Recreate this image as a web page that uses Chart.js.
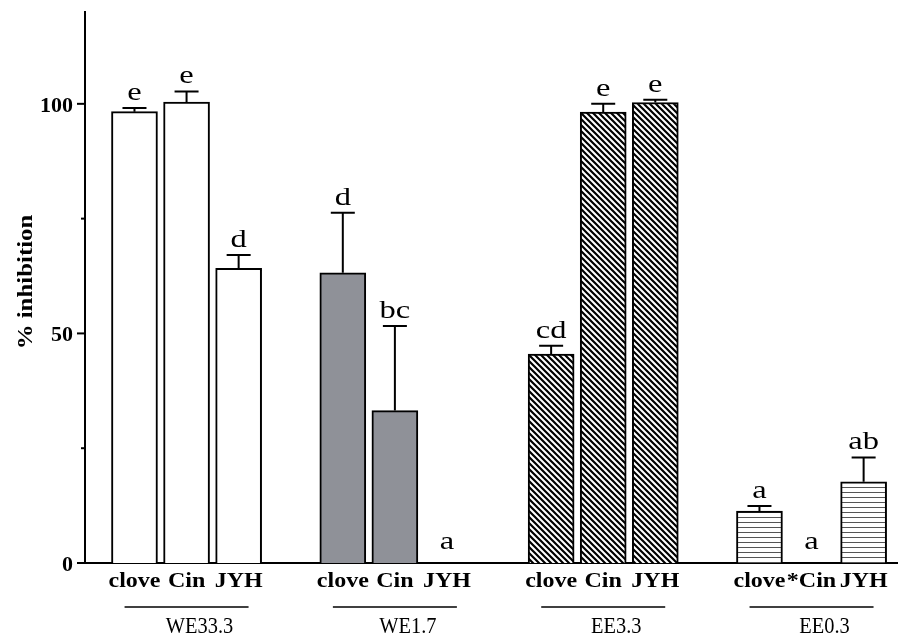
<!DOCTYPE html>
<html>
<head>
<meta charset="utf-8">
<script src="https://cdn.jsdelivr.net/npm/chart.js@4.4.0/dist/chart.umd.min.js"></script>
<style>
  body { margin: 0; background: #fff; }
  #wrap { width: 898px; height: 635px; }
</style>
</head>
<body>
<div id="wrap"><canvas id="inhibitionChart" width="898" height="635"></canvas></div>
<script>
// data
const groupNames = ['WE33.3', 'WE1.7', 'EE3.3', 'EE0.3'];
const itemLabels = ['clove', 'Cin', 'JYH', 'clove', 'Cin', 'JYH', 'clove', 'Cin', 'JYH', 'clove', '*Cin', 'JYH'];
const meanValues = [98.3, 100.4, 64.2, 63.2, 33.2, 0, 45.5, 98.2, 100.3, 11.3, 0, 17.7];
const errorValues = [0.8, 2.3, 2.9, 13.1, 18.4, 0, 1.8, 1.8, 0.6, 1.1, 0, 5.3];
const sigLetters = ['e', 'e', 'd', 'd', 'bc', 'a', 'cd', 'e', 'e', 'a', 'a', 'ab'];
const yTickLabels = [0, 50, 100];

const PER_GROUP = 3;
const SERIF = '"Liberation Serif", "Times New Roman", serif';

// slot index of each bar, leaving one empty slot between groups
function slotOf(k) {
    const g = Math.floor(k / PER_GROUP);
    return g * (PER_GROUP + 1) + (k % PER_GROUP);
}

// fill patterns
function makeHatch() {
    const c = document.createElement('canvas');
    c.width = 6; c.height = 6;
    const x = c.getContext('2d');
    x.fillStyle = '#fff';
    x.fillRect(0, 0, 6, 6);
    x.strokeStyle = '#000';
    x.lineWidth = 2.2;
    x.beginPath();
    x.moveTo(-1, -1); x.lineTo(7, 7);
    x.moveTo(-4, 2); x.lineTo(4, 10);
    x.moveTo(2, -4); x.lineTo(10, 4);
    x.stroke();
    return x.createPattern(c, 'repeat');
}

function makeLines() {
    const c = document.createElement('canvas');
    c.width = 8; c.height = 5;
    const x = c.getContext('2d');
    x.fillStyle = '#fff';
    x.fillRect(0, 0, 8, 5);
    x.fillStyle = '#555';
    x.fillRect(0, 2, 8, 1);
    return x.createPattern(c, 'repeat');
}

const groupFills = ['#ffffff', '#8f9198', makeHatch(), makeLines()];

function stretchText(ctx, txt, x, y, sx, align) {
    ctx.save();
    ctx.translate(x, y);
    ctx.scale(sx, 1);
    ctx.textAlign = align;
    ctx.fillText(txt, 0, 0);
    ctx.restore();
}

// error bars, letters, axis labels
const annotate = {
    id: 'annotate',
    afterDraw(chart) {
        const ctx = chart.ctx;
        const xs = chart.scales.x;
        const ys = chart.scales.y;
        const area = chart.chartArea;
        ctx.save();
        ctx.fillStyle = '#000';
        ctx.strokeStyle = '#000';
        ctx.textBaseline = 'alphabetic';

        // error whiskers and letters
        meanValues.forEach((v, k) => {
            const cx = xs.getPixelForValue(slotOf(k));
            const top = ys.getPixelForValue(v + errorValues[k]);
            if (errorValues[k] > 0) {
                ctx.lineWidth = 2;
                ctx.beginPath();
                ctx.moveTo(cx, ys.getPixelForValue(v));
                ctx.lineTo(cx, top);
                ctx.moveTo(cx - 12, top);
                ctx.lineTo(cx + 12, top);
                ctx.stroke();
            }
            ctx.font = '26px ' + SERIF;
            const base = v > 0 ? top - 8 : ys.getPixelForValue(0) - 14;
            stretchText(ctx, sigLetters[k], cx, base, 1.25, 'center');

            ctx.font = 'bold 20px ' + SERIF;
            stretchText(ctx, itemLabels[k], cx, 587, 1.2, 'center');
        });

        // y ticks
        ctx.lineWidth = 2;
        for (let v = 0; v <= 100; v += 25) {
            const py = ys.getPixelForValue(v);
            const len = v % 50 === 0 ? 8 : 4;
            ctx.beginPath();
            ctx.moveTo(area.left - len, py);
            ctx.lineTo(area.left, py);
            ctx.stroke();
        }
        ctx.font = 'bold 22px ' + SERIF;
        yTickLabels.forEach(v => {
            stretchText(ctx, String(v), 73, ys.getPixelForValue(v) + 8, 1.0, 'right');
        });

        // group underline + name
        ctx.lineWidth = 1.5;
        ctx.font = '24px ' + SERIF;
        groupNames.forEach((name, g) => {
            const mid = xs.getPixelForValue(slotOf(g * PER_GROUP + 1));
            ctx.beginPath();
            ctx.moveTo(mid - 62, 607);
            ctx.lineTo(mid + 62, 607);
            ctx.stroke();
            stretchText(ctx, name, mid + 13, 633, 0.85, 'center');
        });

        // y title
        ctx.save();
        ctx.translate(32, 282);
        ctx.rotate(-Math.PI / 2);
        ctx.scale(1.13, 1);
        ctx.font = 'bold 22px ' + SERIF;
        ctx.textAlign = 'center';
        ctx.fillText('% inhibition', 0, 0);
        ctx.restore();

        ctx.restore();
    }
};

const ctx = document.getElementById('inhibitionChart').getContext('2d');
new Chart(ctx, {
    type: 'bar',
    data: {
        datasets: [{
            data: meanValues.map((v, k) => ({ x: slotOf(k), y: v })),
            backgroundColor: meanValues.map((v, k) => groupFills[Math.floor(k / PER_GROUP)]),
            borderColor: '#000',
            borderWidth: 2,
            borderSkipped: 'start',
            barThickness: 46
        }]
    },
    options: {
        responsive: false,
        animation: false,
        layout: { padding: { top: 12, right: 0, left: 0, bottom: 0 } },
        plugins: {
            legend: { display: false },
            tooltip: { enabled: false }
        },
        scales: {
            x: {
                type: 'linear',
                min: -0.95,
                max: 14.66,
                offset: false,
                grid: { display: false },
                ticks: { display: false },
                border: { display: true, color: '#000', width: 2 },
                afterFit: s => { s.height = 72; }
            },
            y: {
                min: 0,
                max: 120,
                grid: { display: false },
                ticks: { display: false },
                border: { display: true, color: '#000', width: 2 },
                afterFit: s => { s.width = 85; }
            }
        }
    },
    plugins: [annotate]
});
</script>
</body>
</html>
